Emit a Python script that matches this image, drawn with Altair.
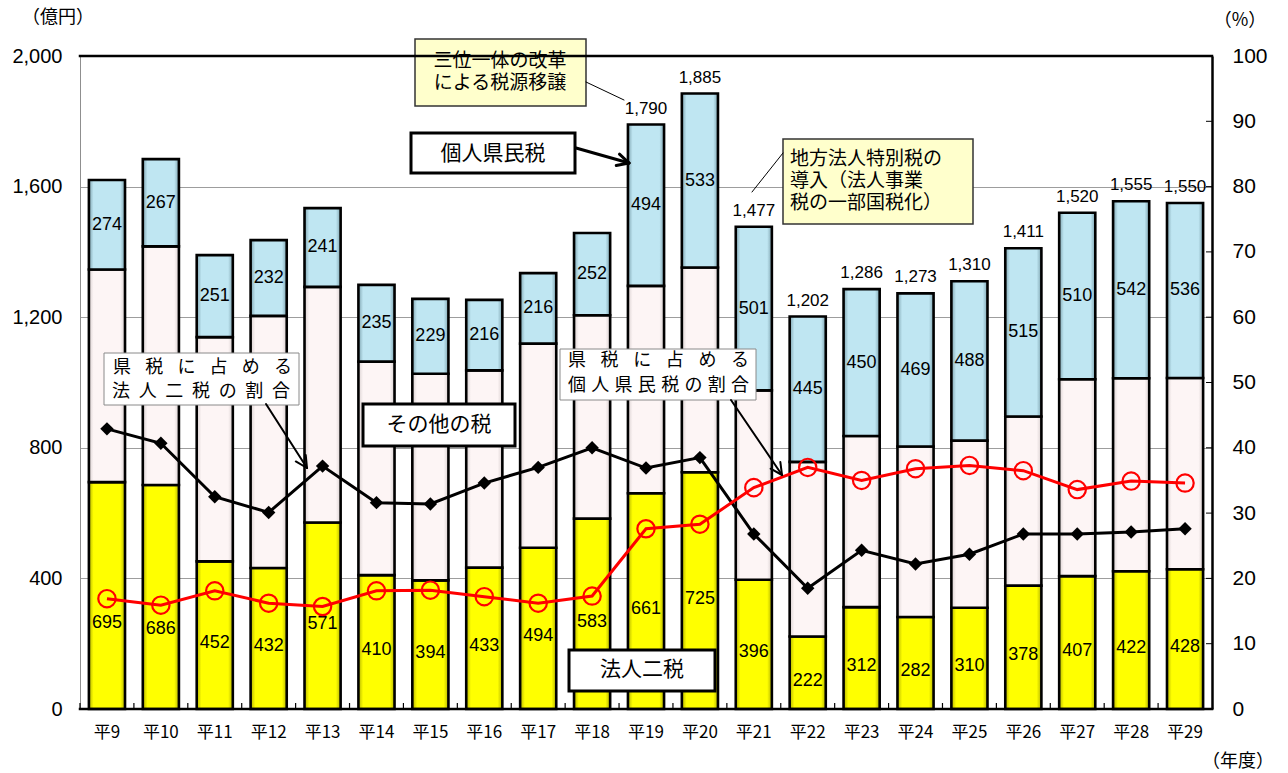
import math

import altair as alt
import pandas as pd

# ---- data (億円 / %) -------------------------------------------------------
years = ["平9", "平10", "平11", "平12", "平13", "平14", "平15", "平16", "平17",
         "平18", "平19", "平20", "平21", "平22", "平23", "平24", "平25", "平26",
         "平27", "平28", "平29"]

# 法人二税
corp_tax = [695, 686, 452, 432, 571, 410, 394, 433, 494, 583, 661, 725,
            396, 222, 312, 282, 310, 378, 407, 422, 428]
# その他の税
other_tax = [651, 731, 687, 772, 722, 654, 633, 604, 625, 623, 635, 627,
             580, 535, 524, 522, 512, 518, 603, 591, 586]
# 個人県民税
resident_tax = [274, 267, 251, 232, 241, 235, 229, 216, 216, 252, 494, 533,
                501, 445, 450, 469, 488, 515, 510, 542, 536]
# years whose bar total is printed above the bar
labeled_years = ["平19", "平20", "平21", "平22", "平23", "平24", "平25",
                 "平26", "平27", "平28", "平29"]

# 県税に占める法人二税の割合 (%)
corp_share = [42.9, 40.7, 32.5, 30.1, 37.2, 31.6, 31.4, 34.6, 37.0, 40.0,
              36.9, 38.5, 26.8, 18.5, 24.3, 22.2, 23.7, 26.8, 26.8, 27.1, 27.6]
# 県税に占める個人県民税の割合 (%)
resident_share = [16.9, 15.9, 18.1, 16.2, 15.7, 18.1, 18.2, 17.2, 16.2, 17.3,
                  27.6, 28.3, 33.9, 37.0, 35.0, 36.8, 37.3, 36.5, 33.6, 34.9, 34.6]

pct_ticks = [0, 10, 20, 30, 40, 50, 60, 70, 80, 90, 100]
yen_ticks = [0, 400, 800, 1200, 1600, 2000]

# ---- layout ----------------------------------------------------------------
W, H = 1132, 653
OX, OY = 80, 56            # plot origin inside the page
STEP = W / len(years)      # width of one category band
YMAX, PMAX = 2000, 100
PX_PER_YEN = H / YMAX
JP = "Noto Sans CJK JP"
NUM = "Liberation Sans"

df = pd.DataFrame({
    "year": years,
    "corp": corp_tax,
    "other": other_tax,
    "resident": resident_tax,
    "corp_share": corp_share,
    "resident_share": resident_share,
})
df["zero"] = 0
df["other_top"] = df["corp"] + df["other"]
df["total"] = df["other_top"] + df["resident"]
df["res_mid"] = df["other_top"] + df["resident"] / 2

# 法人二税 labels sit a little below the segment middle; when that would hit
# a red ratio marker, they drop to just under the marker instead.
marker_yen = df["resident_share"] * (YMAX / PMAX)
corp_lbl_pos = df["corp"] / 2 - 8 / PX_PER_YEN
clash = (corp_lbl_pos - marker_yen).abs() < 14 / PX_PER_YEN
df["corp_lbl_pos"] = corp_lbl_pos.where(~clash, marker_yen - 24 / PX_PER_YEN)
df_tot = df[df["year"].isin(labeled_years)]


def xscale():
    return alt.Scale(domain=years, paddingInner=0.33, paddingOuter=0.165)


def yscale():
    return alt.Scale(domain=[0, YMAX], nice=False, zero=True)


def pscale():
    return alt.Scale(domain=[0, PMAX], nice=False, zero=True)


y_axis = alt.Axis(values=yen_ticks, format=",d", labelFont=NUM, labelFontSize=20,
                  labelColor="black", labelPadding=18, ticks=False,
                  domainColor="#8f8f8f", domainWidth=1, grid=True,
                  gridColor="#9d9d9d", gridWidth=1, title=None)
p_axis = alt.Axis(orient="right", values=pct_ticks, format="d", labelFont=NUM,
                  labelFontSize=21, labelColor="black", labelPadding=20, ticks=False,
                  domainColor="black", domainWidth=2.5, grid=False, title=None)

Xn = alt.X("year:N", sort=years, scale=xscale(), axis=None)


def bevel(edge, mid):
    return alt.Gradient(
        gradient="linear", x1=0, y1=0, x2=1, y2=0,
        stops=[alt.GradientStop(offset=0, color=edge),
               alt.GradientStop(offset=0.13, color=mid),
               alt.GradientStop(offset=0.87, color=mid),
               alt.GradientStop(offset=1, color=edge)])


base = alt.Chart(df)
bar_style = dict(stroke="black", strokeWidth=2.6, strokeJoin="miter")

# ---- stacked bars (left axis) ----------------------------------------------
corp_bar = base.mark_bar(fill=bevel("#b4b400", "#ffff00"), **bar_style).encode(
    x=Xn, y=alt.Y("corp:Q", scale=yscale(), axis=y_axis), y2="zero:Q")
other_bar = base.mark_bar(fill=bevel("#d9d0d0", "#fdf5f5"), **bar_style).encode(
    x=Xn, y=alt.Y("other_top:Q", scale=yscale(), axis=None), y2="corp:Q")
res_bar = base.mark_bar(fill=bevel("#7fa4b0", "#bfe6f2"), **bar_style).encode(
    x=Xn, y=alt.Y("total:Q", scale=yscale(), axis=None), y2="other_top:Q")

label_style = dict(font=NUM, fontSize=18, color="black", baseline="middle")
corp_lbl = base.mark_text(**label_style).encode(
    x=Xn, y=alt.Y("corp_lbl_pos:Q", scale=yscale(), axis=None),
    text=alt.Text("corp:Q", format="d"))
res_lbl = base.mark_text(**label_style).encode(
    x=Xn, y=alt.Y("res_mid:Q", scale=yscale(), axis=None),
    text=alt.Text("resident:Q", format="d"))
tot_lbl = alt.Chart(df_tot).mark_text(font=NUM, fontSize=17, color="black",
                                      baseline="middle", dy=-16).encode(
    x=Xn, y=alt.Y("total:Q", scale=yscale(), axis=None),
    text=alt.Text("total:Q", format=",d"))

# category labels under the plot, placed by the band scale
x_labels = base.mark_text(font=JP, fontSize=17, color="black",
                          baseline="middle").encode(
    x=Xn, y=alt.value(H + 24), text="year:N")

# small inward ticks on the category axis, between the bands
x_ticks = base.mark_rule(color="black", strokeWidth=1.2, xOffset=-STEP / 2).encode(
    x=Xn, y=alt.value(H - 6), y2=alt.value(H))

# ---- share lines (right axis) ----------------------------------------------
corp_line = base.mark_line(color="black", strokeWidth=3).encode(
    x=Xn, y=alt.Y("corp_share:Q", scale=pscale(), axis=p_axis))
corp_pts = base.mark_point(shape="diamond", filled=True, size=180, color="black",
                           opacity=1).encode(
    x=Xn, y=alt.Y("corp_share:Q", scale=pscale(), axis=None))
res_line = base.mark_line(color="#ff0000", strokeWidth=3).encode(
    x=Xn, y=alt.Y("resident_share:Q", scale=pscale(), axis=None))
res_pts = base.mark_point(shape="circle", filled=False, size=300, strokeWidth=2.2,
                          color="#ff0000", opacity=1).encode(
    x=Xn, y=alt.Y("resident_share:Q", scale=pscale(), axis=None))
p_ticks = alt.Chart(pd.DataFrame({"t": pct_ticks})).mark_rule(
    color="black", strokeWidth=1).encode(
    x=alt.value(W - 6), x2=alt.value(W),
    y=alt.Y("t:Q", scale=pscale(), axis=None))

# ---- callouts (page pixel positions) ----------------------------------------
one = pd.DataFrame({"k": [0]})


def box(x1, y1, x2, y2, fill, stroke, w):
    return alt.Chart(one).mark_rect(fill=fill, stroke=stroke, strokeWidth=w).encode(
        x=alt.value(x1 - OX), x2=alt.value(x2 - OX),
        y=alt.value(y1 - OY), y2=alt.value(y2 - OY))


def seg(x1, y1, x2, y2, w, cap="round"):
    return alt.Chart(one).mark_rule(color="black", strokeWidth=w,
                                    strokeCap=cap).encode(
        x=alt.value(x1 - OX), x2=alt.value(x2 - OX),
        y=alt.value(y1 - OY), y2=alt.value(y2 - OY))


def arrow(x1, y1, x2, y2, w, head=13, spread=27):
    parts = [seg(x1, y1, x2, y2, w)]
    ang = math.atan2(y2 - y1, x2 - x1)
    for s in (1, -1):
        a = ang + math.pi + s * math.radians(spread)
        parts.append(seg(x2, y2, x2 + head * math.cos(a), y2 + head * math.sin(a), w))
    return parts


def text(t, x, y, size, align="center", line_height=None):
    props = dict(text=t, font=JP, fontSize=size, align=align, baseline="middle",
                 color="black")
    if line_height:
        props["lineHeight"] = line_height
    return alt.Chart(one).mark_text(**props).encode(
        x=alt.value(x - OX), y=alt.value(y - OY))


def spread_text(t, x0, x1, y, fs):
    n = len(t)
    step = (x1 - x0 - fs) / (n - 1)
    return [text(ch, x0 + fs / 2 + i * step, y, fs) for i, ch in enumerate(t)]


boxes = [
    box(415, 39, 586, 106, "#ffffcc", "#333333", 1.5),
    box(411, 133, 575, 173, "#ffffff", "#000000", 3),
    box(783, 139, 973, 224, "#ffffcc", "#333333", 1.5),
    box(104, 353, 299, 405, "#ffffff", "#8a8a8a", 1),
    box(560, 349, 756, 400, "#ffffff", "#8a8a8a", 1),
    box(363, 404, 515, 446, "#ffffff", "#000000", 3),
    box(569, 650, 715, 691, "#ffffff", "#000000", 3),
]

lines = [seg(OX, OY, OX + W, OY, 2.5, "square"),            # top frame line
         seg(OX, OY + H, OX + W, OY + H, 2.5, "square"),    # category axis line
         seg(586, 82, 624, 100, 1),             # 三位一体 → 平19
         seg(783, 153, 752, 192, 1)]            # 地方法人特別税 → 平21
lines += arrow(576, 148, 629, 163, 3)           # 個人県民税
lines += arrow(266, 404, 307, 468, 2)           # 法人二税の割合
lines += arrow(731, 400, 782, 475, 2)           # 個人県民税の割合

texts = [
    text(["三位一体の改革", "による税源移譲"], 500, 61, 19, line_height=22),
    text("個人県民税", 493, 154, 21),
    text("その他の税", 439, 425, 21),
    text("法人二税", 642, 670, 21),
    text(["地方法人特別税の", "導入（法人事業", "税の一部国税化）"], 790, 159, 19,
         align="left", line_height=22),
    text("（億円）", 58, 18, 18),
    text("（%）", 1240, 21, 18),
    text("（年度）", 1238, 762, 18),
]
texts += spread_text("県税に占める", 113, 292, 368, 18)
texts += spread_text("法人二税の割合", 112, 290, 392, 18)
texts += spread_text("県税に占める", 568, 749, 361, 18)
texts += spread_text("個人県民税の割合", 568, 749, 386, 18)

chart = (
    alt.layer(corp_bar, other_bar, res_bar, x_ticks, corp_lbl, res_lbl, tot_lbl,
              x_labels, corp_line, res_line, corp_pts, res_pts, p_ticks,
              *boxes, *lines, *texts)
    .resolve_scale(y="independent")
    .properties(width=W, height=H, background="white",
                autosize=alt.AutoSizeParams(type="none"),
                padding={"left": OX, "top": OY, "right": 1288 - OX - W,
                         "bottom": 773 - OY - H})
    .configure_view(stroke=None)
)

chart.save("out.html", embed_options={"renderer": "svg", "actions": False})
